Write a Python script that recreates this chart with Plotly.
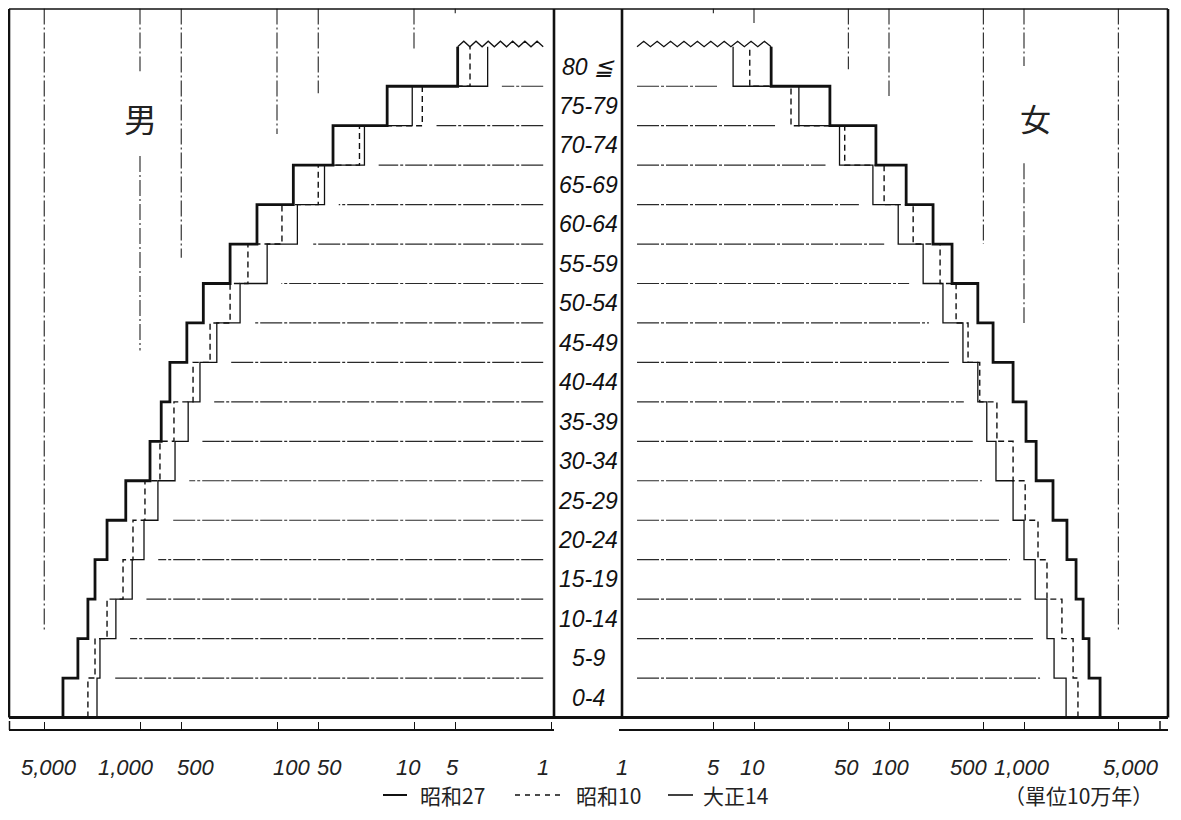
import numpy as np
import plotly.graph_objects as go

# ---------------- data (axis units) ----------------
ages = ["0-4", "5-9", "10-14", "15-19", "20-24", "25-29", "30-34", "35-39", "40-44",
        "45-49", "50-54", "55-59", "60-64", "65-69", "70-74", "75-79", "80 ≦"]

male_s27 = [3650, 2840, 2400, 2130, 1740, 1270, 845, 700, 605, 455, 345, 220, 140, 76, 39, 15.7, 4.8]
male_s10 = [2400, 2130, 1740, 1330, 1125, 920, 715, 565, 410, 308, 220, 163, 92, 50, 25, 8.7, 3.9]
male_t14 = [2060, 1960, 1500, 1140, 935, 740, 555, 445, 365, 275, 186, 118, 71, 45, 23, 10.3, 2.9]

female_s27 = [3660, 3030, 2740, 2430, 2080, 1640, 1230, 1035, 830, 590, 455, 293, 212, 134, 80, 36.5, 13.4]
female_s10 = [2510, 2310, 1910, 1480, 1270, 1020, 830, 630, 470, 385, 314, 239, 151, 92, 47, 18.8, 9.3]
female_t14 = [2050, 1670, 1480, 1210, 1000, 830, 620, 530, 455, 353, 251, 179, 117, 76, 43, 21.5, 7.0]

tick_vals = [1, 5, 10, 50, 100, 500, 1000, 5000]
tick_text = ["1", "5", "10", "50", "100", "500", "1,000", "5,000"]

series_names = ["昭和27", "昭和10", "大正14"]
unit_text = "（單位10万年）"

# vertical guide lines (value, top band-position, bottom band-position)
guide_left_vals = [5000, 1000, 1000, 500, 100, 50, 10, 5]
guide_left_top = [17.97, 17.97, 14.23, 17.97, 17.97, 17.97, 17.97, 17.97]
guide_left_bot = [2.21, 16.38, 9.30, 11.65, 14.79, 15.82, 16.89, 17.85]

guide_right_vals = [5, 10, 50, 100, 500, 1000, 1000, 5000]
guide_right_top = [17.97, 17.97, 17.97, 17.97, 17.97, 17.97, 14.05, 17.97]
guide_right_bot = [17.85, 17.60, 16.43, 15.75, 12.00, 16.51, 10.00, 2.21]

# ---------------- page geometry ----------------
# the page body has an 8px margin, so the figure is 16px smaller than the window
OFF = 8
W, H = 1181 - 2 * OFF, 820 - 2 * OFF
def px(x):
    return (x - OFF) / W
def py(y):
    return 1 - (y - OFF) / H

Y_TOP = 17.97
INK = "#111111"

fig = go.Figure()

def step_xy(vals):
    return list(vals) + [vals[-1]], list(range(len(vals) + 1))

def add_side(xa, s27, s10, t14, inner_start, guides):
    # horizontal band lines from the centre to just inside the innermost step
    bx, by = [], []
    for k in range(1, len(s27)):
        inner = min(s27[k-1], s27[k], s10[k-1], s10[k], t14[k-1], t14[k]) / 1.27
        bx += [inner_start, inner, None]
        by += [k, k, None]
    fig.add_trace(go.Scatter(x=bx, y=by, xaxis=xa, yaxis="y", mode="lines",
                             line=dict(color="#2a2a2a", width=1.2, dash="22px,2px,3px,2px"),
                             hoverinfo="skip", showlegend=False))
    # guide lines
    gv, gt, gb = guides
    gx, gy = [], []
    for v, t, b in zip(gv, gt, gb):
        gx += [v, v, None]
        gy += [t, b, None]
    fig.add_trace(go.Scatter(x=gx, y=gy, xaxis=xa, yaxis="y", mode="lines",
                             line=dict(color="#222222", width=1.1, dash="16px,3px,2px,3px"),
                             hoverinfo="skip", showlegend=False))
    # the three step outlines
    styles = [dict(color=INK, width=2.8),
              dict(color=INK, width=1.4, dash="6px,4px"),
              dict(color=INK, width=1.3)]
    for vals, st, nm in zip([s27, s10, t14], styles, series_names):
        x, y = step_xy(vals)
        fig.add_trace(go.Scatter(x=x, y=y, xaxis=xa, yaxis="y", mode="lines",
                                 line=dict(shape="vh", **st), name=nm,
                                 hoverinfo="skip", showlegend=False))
    # zig-zag (truncation mark) on top of the 80+ band
    vmax = max(s27[-1], s10[-1], t14[-1])
    lo = np.log10(inner_start if inner_start > 1 else 0.96)
    hi = np.log10(vmax)
    n = max(int(round(abs(hi - lo) * 136 / 13)), 2)
    t = np.linspace(hi, lo, 2 * n + 1)
    zy = [17 + (0.14 if i % 2 else 0.0) for i in range(len(t))]
    fig.add_trace(go.Scatter(x=10 ** t, y=zy, xaxis=xa, yaxis="y", mode="lines",
                             line=dict(color=INK, width=1.3),
                             hoverinfo="skip", showlegend=False))

add_side("x", male_s27, male_s10, male_t14, 1.14,
         (guide_left_vals, guide_left_top, guide_left_bot))
add_side("x2", female_s27, female_s10, female_t14, 1.36,
         (guide_right_vals, guide_right_top, guide_right_bot))

AX_Y = 730
common_x = dict(type="log", anchor="free", position=py(AX_Y), showline=True,
                linecolor=INK, linewidth=1.5, ticks="inside", ticklen=7,
                tickcolor=INK, tickwidth=1.3, tickvals=tick_vals, showticklabels=False,
                showgrid=False, zeroline=False, fixedrange=True)

fig.update_layout(
    width=W, height=H,
    margin=dict(l=0, r=0, t=0, b=0, autoexpand=False),
    paper_bgcolor="white", plot_bgcolor="white",
    xaxis=dict(domain=[px(9), px(554)], range=[(551 - 9) / 137, (551 - 554) / 137], **common_x),
    xaxis2=dict(domain=[px(619), px(1168)], range=[0, (1168 - 619) / 135], **common_x),
    yaxis=dict(domain=[py(717.5), py(8.5)], range=[0, Y_TOP], visible=False, fixedrange=True),
    showlegend=False,
)

# frame & centre column
shapes = []
def seg(x0, y0, x1, y1, w, dash="solid"):
    shapes.append(dict(type="line", xref="paper", yref="paper",
                       x0=px(x0), y0=py(y0), x1=px(x1), y1=py(y1),
                       line=dict(color=INK, width=w, dash=dash)))
seg(9, 9, 1168, 9, 1.6)
seg(9, 9, 9, 717.5, 2.6)
seg(1168, 9, 1168, 717.5, 2.6)
seg(9, 717.5, 1168, 717.5, 2.8)
seg(554, 9, 554, 717.5, 2.6)
seg(622, 9, 622, 717.5, 2.6)
# bracket end caps of the axes
seg(9.5, AX_Y, 9.5, AX_Y - 9, 1.5)
seg(1160, AX_Y, 1160, AX_Y - 9, 1.5)

# legend samples
LEG_Y = 795
seg(383, LEG_Y, 407, LEG_Y, 2.0)
seg(515, LEG_Y, 562, LEG_Y, 1.6, "5px,5px")
seg(668, LEG_Y, 693, LEG_Y, 1.6)
fig.update_layout(shapes=shapes)

# annotations
ann = []
# tick labels: placed on the axes' own scale; the hand lettering sits slightly off its tick
tick_font = dict(family="Liberation Sans, sans-serif", size=22, color="#222222", style="italic")
shift_left = [-8, -3, -6, 11, 14, 14, -14, 5]
shift_right = [3, 0, -2, -2, 1, -15, -2, 13]
for xa, shifts in (("x", shift_left), ("x2", shift_right)):
    for v, txt, sh in zip(tick_vals, tick_text, shifts):
        ann.append(dict(x=np.log10(v), xref=xa, y=py(767), yref="paper", text=txt,
                        xshift=sh, showarrow=False, xanchor="center", yanchor="middle",
                        font=tick_font))

age_font = dict(family="Liberation Sans, sans-serif", size=23, color=INK, style="italic")
for k, a in enumerate(ages):
    ann.append(dict(x=px(588), y=k + 0.5, xref="paper", yref="y", text=a,
                    showarrow=False, font=age_font, xanchor="center", yanchor="middle"))
cjk = "Noto Sans CJK JP, Noto Sans CJK SC, sans-serif"
def label(x, y, text, size):
    ann.append(dict(x=px(x), y=py(y), xref="paper", yref="paper", text=text,
                    showarrow=False, xanchor="center", yanchor="middle",
                    font=dict(family=cjk, size=size, color="#222222")))
label(140, 118, "男", 33)
label(1035, 118, "女", 31)
label(452, LEG_Y, series_names[0], 21)
label(608, LEG_Y, series_names[1], 21)
label(735, LEG_Y, series_names[2], 21)
label(1078, LEG_Y, unit_text, 21)
fig.update_layout(annotations=ann)

fig.write_html("out.html")
